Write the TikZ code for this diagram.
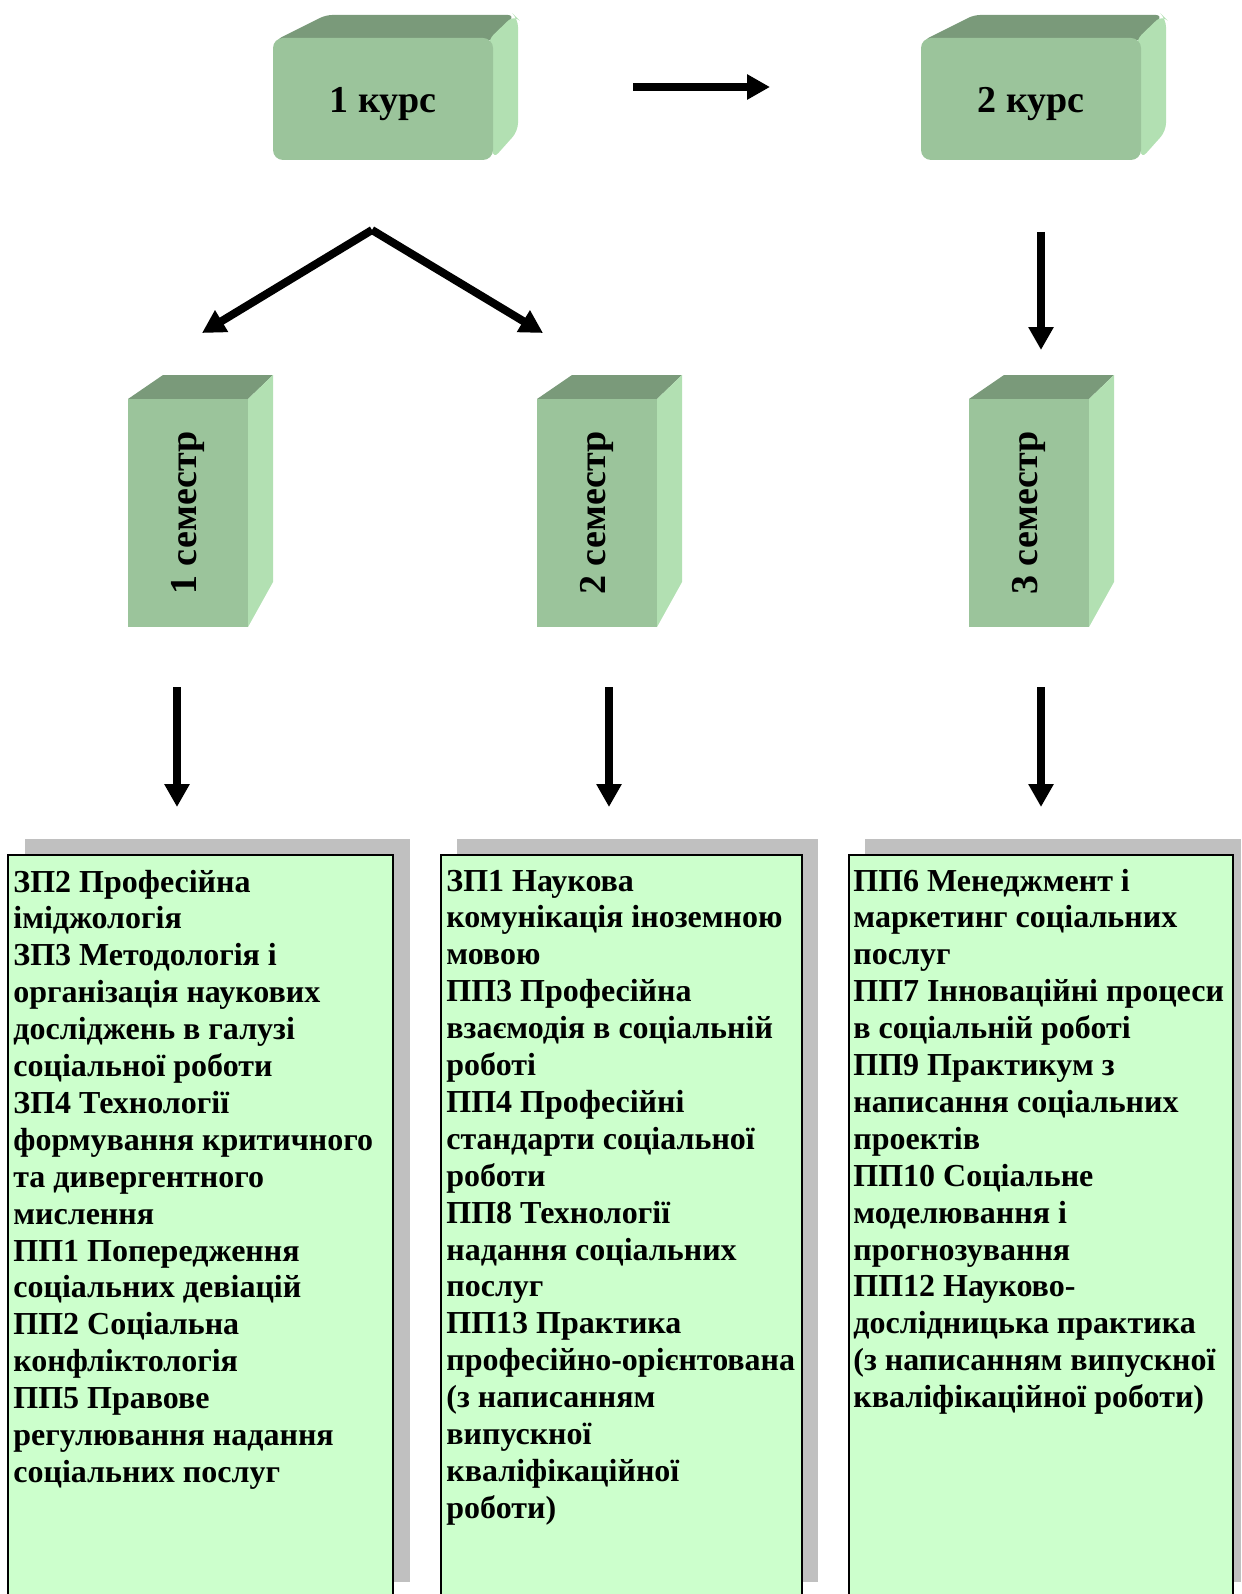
\documentclass[tikz,border=0pt]{standalone}
\usepackage{fontspec}
\setmainfont{Liberation Serif}
\usetikzlibrary{arrows.meta}

\definecolor{facegreen}{HTML}{9BC49B}
\definecolor{topgreen}{HTML}{7A9A7A}
\definecolor{sidegreen}{HTML}{B2E0B2}
\definecolor{listgreen}{HTML}{CCFFCC}
\definecolor{shadowgray}{HTML}{C0C0C0}

\begin{document}
\begin{tikzpicture}[x=0.5pt, y=-0.5pt,
  arrow/.style={line width=4pt, -{Triangle[length=11.5pt, width=12pt]}},
  front/.style={fill=facegreen, inner sep=0pt},
  boxtext/.style={inner sep=0pt, font=\bfseries\fontsize{19}{22}\selectfont},
  listtext/.style={anchor=base west, inner sep=0pt,
    font=\bfseries\fontsize{16}{18.45}\selectfont}]

\useasboundingbox (0,0) rectangle (1241,1594);

% courses
\foreach \x/\t/\n in {0/1 курс/1, 648/2 курс/2}{
\fill[topgreen, rounded corners=3pt] ({276+\x},40) -- ({326+\x},15) -- ({514+\x},15) -- ({496+\x},40) -- cycle;
\fill[sidegreen, rounded corners=4pt] ({488+\x},40) -- ({514+\x},15) -- ({518+\x},19) -- ({518+\x},131) -- ({493+\x},159) -- cycle;
\node[front, rounded corners=5pt, minimum width=110pt, minimum height=61pt] (kurs\n) at ({383+\x},99) {};
\node[boxtext, yshift=-2.5pt] (kurstext\n) at (kurs\n) {\t};
}

% semesters
\foreach \x/\t/\n in {0/1 семестр/1, 409/2 семестр/2, 841/3 семестр/3}{
\fill[topgreen] ({128+\x},399) -- ({163+\x},375) -- ({273+\x},375) -- ({248+\x},399) -- cycle;
\fill[sidegreen] ({248+\x},399) -- ({273+\x},375) -- ({273+\x},582) -- ({248+\x},627) -- cycle;
\node[front, minimum width=60pt, minimum height=114pt] (sem\n) at ({188+\x},513) {};
\node[boxtext, rotate=90] (semtext\n) at (sem\n) {\t};
}

% lists
\fill[shadowgray] (25,839) rectangle (410,1582);
\fill[shadowgray] (457,839) rectangle (818,1582);
\fill[shadowgray] (865,839) rectangle (1241,1582);
\draw[line width=1.3pt, fill=listgreen] (8,855) rectangle (393,1600);
\draw[line width=1.3pt, fill=listgreen] (441,855) rectangle (802,1600);
\draw[line width=1.3pt, fill=listgreen] (849,855) rectangle (1233,1600);

\node[listtext] (list1) at (13,892) {\parbox[t]{190pt}{ЗП2 Професійна\\іміджологія\\ЗП3 Методологія і\\організація наукових\\досліджень в галузі\\соціальної роботи\\ЗП4 Технології\\формування критичного\\та дивергентного\\мислення\\ПП1 Попередження\\соціальних девіацій\\ПП2 Соціальна\\конфліктологія\\ПП5 Правове\\регулювання надання\\соціальних послуг}};
\node[listtext] (list2) at (446,891) {\parbox[t]{178pt}{ЗП1 Наукова\\комунікація іноземною\\мовою\\ПП3 Професійна\\взаємодія в соціальній\\роботі\\ПП4 Професійні\\стандарти соціальної\\роботи\\ПП8 Технології\\надання соціальних\\послуг\\ПП13 Практика\\професійно-орієнтована\\(з написанням\\випускної\\кваліфікаційної\\роботи)}};
\node[listtext] (list3) at (853,891) {\parbox[t]{190pt}{ПП6 Менеджмент і\\маркетинг соціальних\\послуг\\ПП7 Інноваційні процеси\\в соціальній роботі\\ПП9 Практикум з\\написання соціальних\\проектів\\ПП10 Соціальне\\моделювання і\\прогнозування\\ПП12 Науково-\\дослідницька практика\\(з написанням випускної\\кваліфікаційної роботи)}};

% arrows
\coordinate (hfrom) at (633,87);
\coordinate (hto) at (770,87);
\coordinate (apex) at (372,230);
\coordinate (left) at (202,333);
\coordinate (right) at (543,333);
\coordinate (vfrom) at (1041,232);
\coordinate (vto) at (1041,350);
\draw[arrow] (hfrom) -- (hto);
\draw[arrow] (apex) -- (left);
\draw[arrow] (apex) -- (right);
\draw[arrow] (vfrom) -- (vto);
\foreach \x/\n in {177/1, 609/2, 1041/3}{
\coordinate (dfrom\n) at (\x,687);
\coordinate (dto\n) at (\x,807);
\draw[arrow] (dfrom\n) -- (dto\n);
}
\end{tikzpicture}
\end{document}
